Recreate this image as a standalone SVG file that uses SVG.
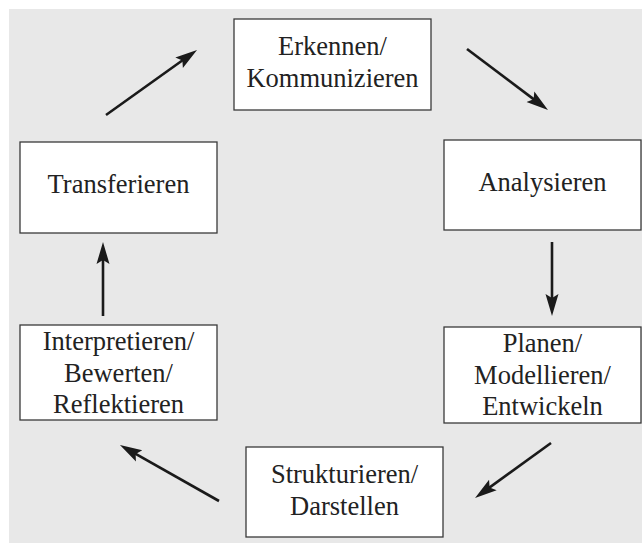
<svg xmlns="http://www.w3.org/2000/svg" width="642" height="543" viewBox="0 0 642 543">
<defs>
<style>
.box{fill:#ffffff;stroke:#3a3a3a;stroke-width:1.3}
.lbl{font-family:"Liberation Serif","Times New Roman",serif;font-size:26.5px;fill:#222;text-anchor:middle}
.arr{stroke:#1a1a1a;stroke-width:2.6;fill:none;marker-end:url(#ah)}
</style>
<marker id="ah" markerUnits="userSpaceOnUse" markerWidth="24" markerHeight="16" viewBox="0 -8 24 16" refX="6" refY="0" orient="auto">
<path d="M22,0 L0,-6.5 L4,0 L0,6.5 Z" fill="#1a1a1a"/>
</marker>
</defs>
<rect x="0" y="0" width="642" height="543" fill="#ffffff"/>
<rect x="9" y="9" width="633" height="534" fill="#e8e8e8"/>
<g id="connectors">
<line class="arr" x1="106" y1="115" x2="184" y2="59.3"/>
<line class="arr" x1="467" y1="49" x2="535.2" y2="100.4"/>
<line class="arr" x1="552" y1="242" x2="552" y2="300"/>
<line class="arr" x1="551" y1="443" x2="488" y2="488.6"/>
<line class="arr" x1="219" y1="501" x2="133.9" y2="452.9"/>
<line class="arr" x1="103" y1="316" x2="103" y2="258"/>
</g>
<g id="erkennen">
<rect class="box" x="234" y="19" width="197" height="91"/>
<text class="lbl" x="332.5" y="55">Erkennen/</text>
<text class="lbl" x="332.5" y="87">Kommunizieren</text>
</g>
<g id="analysieren">
<rect class="box" x="444" y="140" width="197" height="90"/>
<text class="lbl" x="542.5" y="191">Analysieren</text>
</g>
<g id="planen">
<rect class="box" x="444" y="327" width="197" height="96"/>
<text class="lbl" x="542.5" y="352">Planen/</text>
<text class="lbl" x="542.5" y="384">Modellieren/</text>
<text class="lbl" x="542.5" y="415">Entwickeln</text>
</g>
<g id="strukturieren">
<rect class="box" x="246" y="447" width="197" height="90"/>
<text class="lbl" x="344.5" y="483">Strukturieren/</text>
<text class="lbl" x="344.5" y="515">Darstellen</text>
</g>
<g id="interpretieren">
<rect class="box" x="20" y="325" width="197" height="95"/>
<text class="lbl" x="118.5" y="350">Interpretieren/</text>
<text class="lbl" x="118.5" y="382">Bewerten/</text>
<text class="lbl" x="118.5" y="413">Reflektieren</text>
</g>
<g id="transferieren">
<rect class="box" x="20" y="142" width="197" height="91"/>
<text class="lbl" x="118.5" y="193">Transferieren</text>
</g>
</svg>
